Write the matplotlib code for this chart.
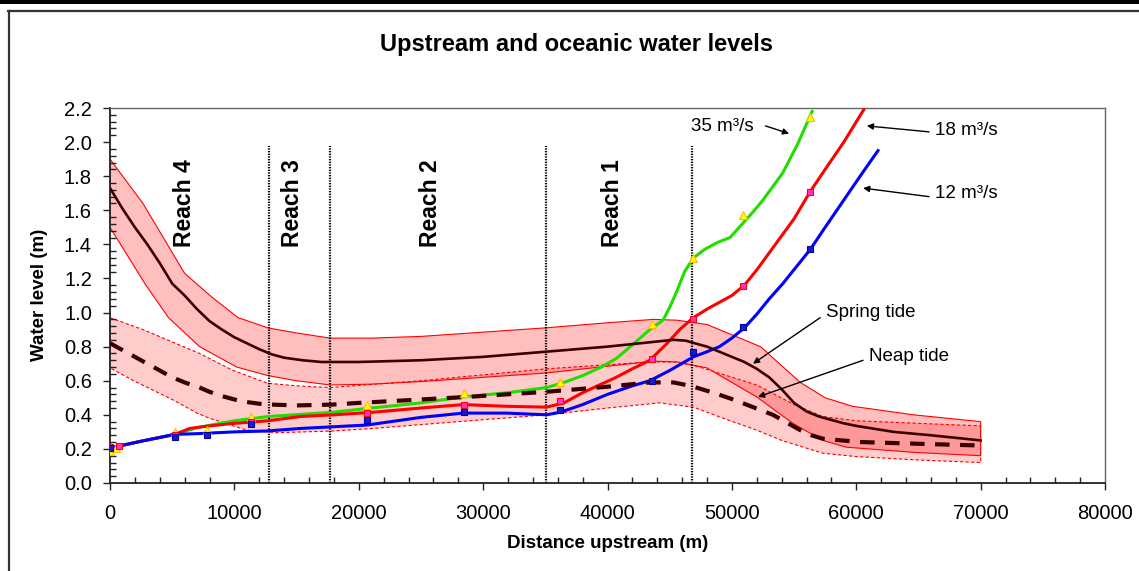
import matplotlib
matplotlib.use("Agg")
import matplotlib.pyplot as plt
from matplotlib.patches import Polygon, Rectangle
from matplotlib.lines import Line2D
from matplotlib.ticker import MultipleLocator, FormatStrFormatter

plt.rcParams['font.family'] = ['Liberation Sans', 'DejaVu Sans']

# ---- tidal envelopes (distance in m, level in m) ----
spring_mean_x = [0, 1000, 2000, 3000, 4000, 5000, 6000, 7000, 8000, 9000, 10000, 11000, 12000,
                 13000, 14000, 15500, 17000, 20000, 25000, 30000, 35000, 40000, 44000, 45300,
                 46300, 47000, 48000, 49000, 50000, 51000, 52000, 53000, 54000, 55000, 56000,
                 57000, 58000, 59000, 60000, 63000, 66000, 70000]
spring_mean_y = [1.73, 1.61, 1.50, 1.40, 1.29, 1.17, 1.10, 1.02, 0.95, 0.90, 0.855, 0.82, 0.785,
                 0.755, 0.735, 0.72, 0.71, 0.71, 0.72, 0.74, 0.77, 0.80, 0.83, 0.84,
                 0.835, 0.82, 0.80, 0.77, 0.74, 0.71, 0.67, 0.62, 0.55, 0.47, 0.42,
                 0.39, 0.37, 0.35, 0.335, 0.30, 0.28, 0.25]

spring_up_x = [0, 2650, 6000, 8200, 10300, 12700, 15000, 17700, 21000, 25000, 30000, 35000,
               40000, 43700, 45600, 48000, 52300, 55500, 57500, 59700, 64600, 70000]
spring_up_y = [1.90, 1.64, 1.23, 1.09, 0.97, 0.91, 0.88, 0.85, 0.85, 0.86, 0.885, 0.91,
               0.94, 0.96, 0.955, 0.93, 0.80, 0.59, 0.50, 0.45, 0.40, 0.36]

spring_lo_x = [0, 2800, 4700, 7200, 10200, 12700, 15000, 17700, 21000, 25000, 30000, 35000,
               40000, 43700, 45600, 48000, 52000, 54900, 57300, 59200, 64600, 70000]
spring_lo_y = [1.50, 1.17, 0.97, 0.80, 0.68, 0.63, 0.60, 0.575, 0.58, 0.595, 0.62, 0.645,
               0.685, 0.715, 0.71, 0.675, 0.505, 0.35, 0.25, 0.21, 0.18, 0.16]

neap_mean_x = [0, 1000, 2000, 3000, 4000, 5000, 6000, 7200, 8000, 9000, 10000, 11000, 12000,
               13000, 15000, 17900, 20000, 25000, 28700, 35100, 40000, 43400, 45300, 46000,
               46900, 48500, 50100, 51700, 53300, 54400, 55500, 56400, 57300, 58800, 60500,
               65000, 70000]
neap_mean_y = [0.82, 0.78, 0.74, 0.70, 0.66, 0.62, 0.59, 0.56, 0.535, 0.51, 0.49, 0.475, 0.465,
               0.46, 0.455, 0.46, 0.47, 0.49, 0.505, 0.535, 0.565, 0.59, 0.59, 0.58,
               0.565, 0.53, 0.49, 0.445, 0.40, 0.355, 0.31, 0.28, 0.26, 0.25, 0.24,
               0.23, 0.22]

neap_up_x = [0, 2650, 7200, 9900, 12700, 15000, 17700, 25000, 35100, 43400, 45500, 47400,
             52000, 55000, 57300, 60000, 65000, 70000]
neap_up_y = [0.97, 0.90, 0.76, 0.66, 0.585, 0.57, 0.56, 0.60, 0.67, 0.71, 0.71, 0.68,
             0.575, 0.46, 0.39, 0.365, 0.35, 0.335]

neap_lo_x = [0, 1900, 5000, 7000, 8000, 11000, 13400, 17900, 21150, 28000, 35100, 40000,
             44200, 46900, 49300, 52000, 54000, 57300, 60000, 65000, 70000]
neap_lo_y = [0.675, 0.60, 0.49, 0.41, 0.38, 0.31, 0.295, 0.305, 0.32, 0.36, 0.40, 0.44,
             0.47, 0.445, 0.38, 0.31, 0.25, 0.175, 0.155, 0.135, 0.12]

# ---- modelled water levels for three river discharges ----
q12_x = [0, 2500, 5200, 7200, 10000, 12600, 15300, 20650, 25000, 28400, 31900, 35100, 36200,
         38000, 40000, 42000, 43400, 45000, 46900, 48000, 49000, 50000, 51000, 52000, 53000,
         54100, 55200, 56300, 57500, 59000, 60500, 61750]
q12_y = [0.205, 0.245, 0.285, 0.29, 0.30, 0.305, 0.32, 0.34, 0.385, 0.41, 0.41, 0.40, 0.415,
         0.46, 0.52, 0.57, 0.60, 0.66, 0.74, 0.77, 0.80, 0.85, 0.91, 0.99, 1.08,
         1.17, 1.27, 1.37, 1.50, 1.66, 1.82, 1.95]

q18_x = [0, 2500, 5200, 6400, 8000, 10000, 12700, 15300, 18000, 21150, 25000, 28400, 31900,
         35100, 36500, 38000, 39500, 40700, 42000, 43400, 44800, 45800, 46900, 48000, 49000,
         50000, 51000, 52000, 53000, 54000, 55000, 56300, 57500, 59000, 60600]
q18_y = [0.205, 0.245, 0.285, 0.32, 0.335, 0.35, 0.365, 0.39, 0.40, 0.415, 0.44, 0.46, 0.45,
         0.445, 0.47, 0.53, 0.58, 0.62, 0.67, 0.72, 0.82, 0.90, 0.97, 1.02, 1.06,
         1.10, 1.16, 1.25, 1.35, 1.45, 1.55, 1.71, 1.84, 2.00, 2.19]

q35_x = [0, 2500, 5200, 7000, 10000, 12700, 17900, 21000, 25000, 28400, 32000, 35100, 36500,
         38000, 39500, 40700, 42000, 43400, 44460, 45000, 45600, 46200, 46900, 47800, 48800,
         49850, 50900, 51700, 52500, 53300, 54100, 55300, 56450]
q35_y = [0.205, 0.245, 0.285, 0.325, 0.365, 0.39, 0.415, 0.44, 0.47, 0.505, 0.53, 0.56, 0.59,
         0.63, 0.68, 0.73, 0.81, 0.90, 0.955, 1.03, 1.13, 1.24, 1.32, 1.37, 1.41,
         1.44, 1.525, 1.59, 1.66, 1.74, 1.82, 1.99, 2.18]

# ---- observed water levels ----
obs12_x = [0, 5200, 7800, 11300, 20700, 28500, 36200, 43600, 46900, 50900, 56300]
obs12_y = [0.205, 0.27, 0.28, 0.345, 0.37, 0.415, 0.43, 0.60, 0.77, 0.915, 1.37]
obs18_x = [0, 700, 5200, 11300, 20700, 28500, 36200, 43600, 46900, 50900, 56300]
obs18_y = [0.21, 0.22, 0.28, 0.36, 0.41, 0.46, 0.48, 0.725, 0.96, 1.155, 1.71]
obs35_x = [0, 500, 5200, 7800, 11300, 20700, 28500, 36200, 43600, 46900, 50900, 56300]
obs35_y = [0.19, 0.205, 0.30, 0.31, 0.39, 0.46, 0.53, 0.59, 0.93, 1.32, 1.57, 2.15]

reach_bounds = [12800, 17700, 35050, 46800]
reach_names = ["Reach 4", "Reach 3", "Reach 2", "Reach 1"]
reach_label_x = [6030, 14640, 25730, 40440]

W, H = 1139, 571
fig = plt.figure(figsize=(W / 100, H / 100), dpi=100)
fig.patch.set_facecolor('white')
ax = fig.add_axes([110 / W, 1 - 483 / H, 995 / W, 375 / H])

# envelopes
spring_poly = list(zip(spring_up_x, spring_up_y)) + list(zip(spring_lo_x, spring_lo_y))[::-1]
neap_poly = list(zip(neap_up_x, neap_up_y)) + list(zip(neap_lo_x, neap_lo_y))[::-1]
ax.add_patch(Polygon(neap_poly, closed=True, facecolor=(1, 0, 0, 0.20), edgecolor='#ff0000',
                     linewidth=0.8, linestyle=(0, (3, 2)), zorder=1))
ax.add_patch(Polygon(spring_poly, closed=True, facecolor=(1, 0, 0, 0.25), edgecolor='#ff0000',
                     linewidth=0.8, zorder=1.1))

# reach boundaries
for xb in reach_bounds:
    ax.plot([xb, xb], [0, 1.98], color='black', lw=1.6, linestyle=(0, (0.6, 0.6)), zorder=2)
for name, xl in zip(reach_names, reach_label_x):
    ax.text(xl, 1.385, name, rotation=90, ha='center', va='bottom', fontsize=16.5,
            fontweight='bold', zorder=6)

# discharge curves
ax.plot(q35_x, q35_y, color='#22dd00', lw=2.2, zorder=3, solid_joinstyle='round')
ax.plot(q18_x, q18_y, color='#ff0000', lw=2.2, zorder=3.1, solid_joinstyle='round')
ax.plot(q12_x, q12_y, color='#0000ff', lw=2.2, zorder=3.2, solid_joinstyle='round')

# tidal means
ax.plot(spring_mean_x, spring_mean_y, color='#3a0000', lw=1.9, zorder=4, solid_joinstyle='round')
ax.plot(neap_mean_x, neap_mean_y, color='#3a0000', lw=3.0, dashes=(3.5, 2.5), zorder=4)

# observations
ax.plot(obs35_x, obs35_y, ls='none', marker='^', ms=5.5, mfc='#ffff00', mec='#ffbb00', mew=0.8, zorder=5)
ax.plot(obs18_x, obs18_y, ls='none', marker='s', ms=5, mfc='#ff33cc', mec='#ff0000', mew=0.8, zorder=5)
ax.plot(obs12_x, obs12_y, ls='none', marker='s', ms=5, mfc='#1a1acc', mec='#0000aa', mew=0.8, zorder=5)

# annotations
arrow = dict(arrowstyle='-|>', color='black', lw=1.0, mutation_scale=9, shrinkA=0, shrinkB=0)
ax.annotate('', xy=(54600, 2.05), xytext=(52700, 2.095), arrowprops=arrow, zorder=6)
ax.text(46700, 2.09, '35 m³/s', ha='left', va='center', fontsize=13.5, zorder=6)
ax.annotate('', xy=(60850, 2.095), xytext=(65850, 2.06), arrowprops=arrow, zorder=6)
ax.text(66300, 2.07, '18 m³/s', ha='left', va='center', fontsize=13.5, zorder=6)
ax.annotate('', xy=(60550, 1.73), xytext=(65850, 1.68), arrowprops=arrow, zorder=6)
ax.text(66300, 1.70, '12 m³/s', ha='left', va='center', fontsize=13.5, zorder=6)
ax.annotate('', xy=(51700, 0.70), xytext=(57100, 0.97), arrowprops=arrow, zorder=6)
ax.text(57550, 1.00, 'Spring tide', ha='left', va='center', fontsize=13.5, zorder=6)
ax.annotate('', xy=(52100, 0.505), xytext=(60550, 0.72), arrowprops=arrow, zorder=6)
ax.text(61000, 0.74, 'Neap tide', ha='left', va='center', fontsize=13.5, zorder=6)

# axes styling
ax.set_xlim(0, 80000)
ax.set_ylim(0, 2.2)
ax.xaxis.set_major_locator(MultipleLocator(10000))
ax.xaxis.set_minor_locator(MultipleLocator(2000))
ax.yaxis.set_major_locator(MultipleLocator(0.2))
ax.yaxis.set_minor_locator(MultipleLocator(0.04))
ax.yaxis.set_major_formatter(FormatStrFormatter('%.1f'))
ax.xaxis.set_major_formatter(FormatStrFormatter('%d'))
ax.tick_params(which='major', direction='out', length=5, width=1.0, labelsize=14.5, color='#222222')
ax.tick_params(axis='y', which='major', pad=8)
ax.tick_params(axis='x', which='major', pad=10)
ax.tick_params(which='minor', direction='in', length=4, width=1.0, color='#222222')
for s in ['left', 'bottom']:
    ax.spines[s].set_color('#222222')
    ax.spines[s].set_linewidth(1.3)
for s in ['top', 'right']:
    ax.spines[s].set_color('#666666')
    ax.spines[s].set_linewidth(1.0)

ax.set_xlabel('Distance upstream (m)', fontsize=13.5, fontweight='bold')
ax.xaxis.set_label_coords(0.5, (483 - 543) / 375)
ax.xaxis.label.set_verticalalignment('center')
ax.set_ylabel('Water level (m)', fontsize=13.5, fontweight='bold')
ax.yaxis.set_label_coords((39 - 110) / 995, (483 - 295) / 375)
ax.yaxis.label.set_verticalalignment('center')

fig.text(577 / W, 1 - 44 / H, 'Upstream and oceanic water levels', ha='center', va='center',
         fontsize=17, fontweight='bold')

# chart-area frame
fig.add_artist(Rectangle((0, 1 - 3.5 / H), 1, 3.5 / H, transform=fig.transFigure,
                         facecolor='black', edgecolor='none'))
fig.add_artist(Line2D([8 / W, 1], [1 - 10.5 / H, 1 - 10.5 / H], transform=fig.transFigure,
                      color='#333333', lw=1.6))
fig.add_artist(Line2D([8.5 / W, 8.5 / W], [0, 1 - 10.5 / H], transform=fig.transFigure,
                      color='#333333', lw=1.6))

fig.savefig('out.png', dpi=100)
